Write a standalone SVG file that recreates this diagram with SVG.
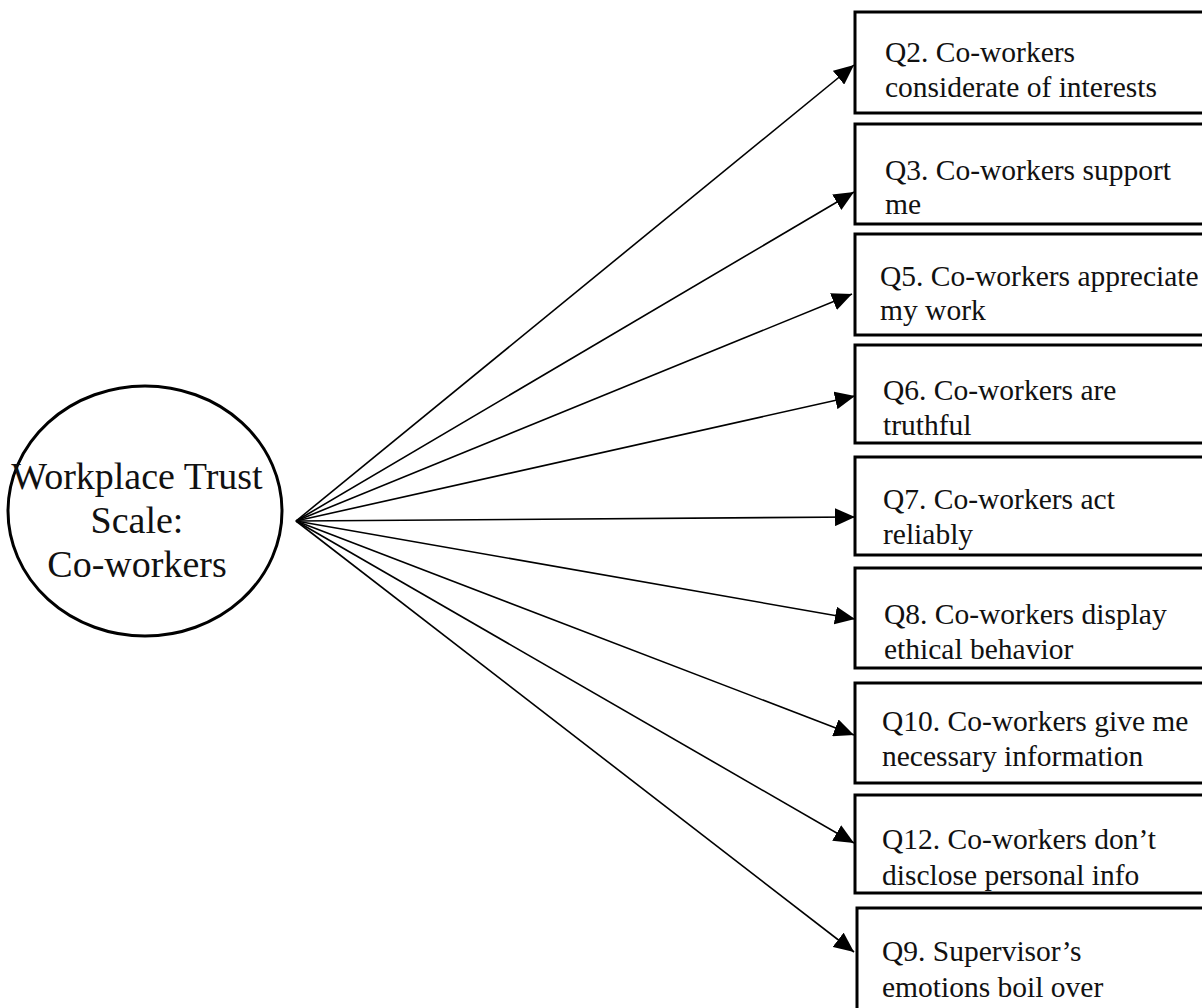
<svg xmlns="http://www.w3.org/2000/svg" width="1202" height="1008" viewBox="0 0 1202 1008">
<style>
.box{fill:#fff;stroke:#000;stroke-width:3}
.t{font-family:"Liberation Serif","Times New Roman",serif;font-size:29.5px;fill:#111}
.c{font-family:"Liberation Serif","Times New Roman",serif;font-size:38px;fill:#111;text-anchor:middle}
.con line{stroke:#000;stroke-width:1.6;marker-end:url(#ah)}
</style>
<defs>
<marker id="ah" viewBox="0 0 20 18" refX="20" refY="9" markerWidth="20" markerHeight="18" markerUnits="userSpaceOnUse" orient="auto">
<path d="M0,0 L20,9 L0,18 z" fill="#000"/>
</marker>
</defs>
<rect width="1202" height="1008" fill="#fff"/>
<g id="connectors" class="con">
<line x1="296" y1="521" x2="854" y2="65"/>
<line x1="296" y1="521" x2="854" y2="192"/>
<line x1="296" y1="521" x2="852" y2="294"/>
<line x1="296" y1="521" x2="855" y2="396"/>
<line x1="296" y1="521" x2="855" y2="517"/>
<line x1="296" y1="521" x2="855" y2="619"/>
<line x1="296" y1="521" x2="854" y2="735"/>
<line x1="296" y1="521" x2="854" y2="843"/>
<line x1="296" y1="521" x2="854" y2="952"/>
</g>
<g id="latent">
<ellipse cx="145" cy="511" rx="137" ry="125" fill="#fff" stroke="#000" stroke-width="3"/>
<text class="c" x="137" y="489">Workplace Trust</text>
<text class="c" x="137" y="533">Scale:</text>
<text class="c" x="137" y="577">Co-workers</text>
</g>
<g id="q2"><rect class="box" x="855" y="12" width="360" height="101"/><text class="t" x="885" y="62">Q2. Co-workers</text><text class="t" x="885" y="97">considerate of interests</text></g>
<g id="q3"><rect class="box" x="855" y="124" width="360" height="100"/><text class="t" x="885" y="180">Q3. Co-workers support</text><text class="t" x="885" y="214">me</text></g>
<g id="q5"><rect class="box" x="855" y="234" width="360" height="101"/><text class="t" x="880" y="286">Q5. Co-workers appreciate</text><text class="t" x="880" y="320">my work</text></g>
<g id="q6"><rect class="box" x="855" y="345" width="360" height="98"/><text class="t" x="883" y="400">Q6. Co-workers are</text><text class="t" x="883" y="435">truthful</text></g>
<g id="q7"><rect class="box" x="855" y="457" width="360" height="98"/><text class="t" x="883" y="509">Q7. Co-workers act</text><text class="t" x="883" y="544">reliably</text></g>
<g id="q8"><rect class="box" x="855" y="568" width="360" height="100"/><text class="t" x="884" y="624">Q8. Co-workers display</text><text class="t" x="884" y="659">ethical behavior</text></g>
<g id="q10"><rect class="box" x="855" y="683" width="360" height="100"/><text class="t" x="882" y="731">Q10. Co-workers give me</text><text class="t" x="882" y="766">necessary information</text></g>
<g id="q12"><rect class="box" x="855" y="795" width="360" height="98"/><text class="t" x="882" y="849">Q12. Co-workers don’t</text><text class="t" x="882" y="885">disclose personal info</text></g>
<g id="q9"><rect class="box" x="857" y="908" width="360" height="120"/><text class="t" x="882" y="961">Q9. Supervisor’s</text><text class="t" x="882" y="997">emotions boil over</text></g>
</svg>
